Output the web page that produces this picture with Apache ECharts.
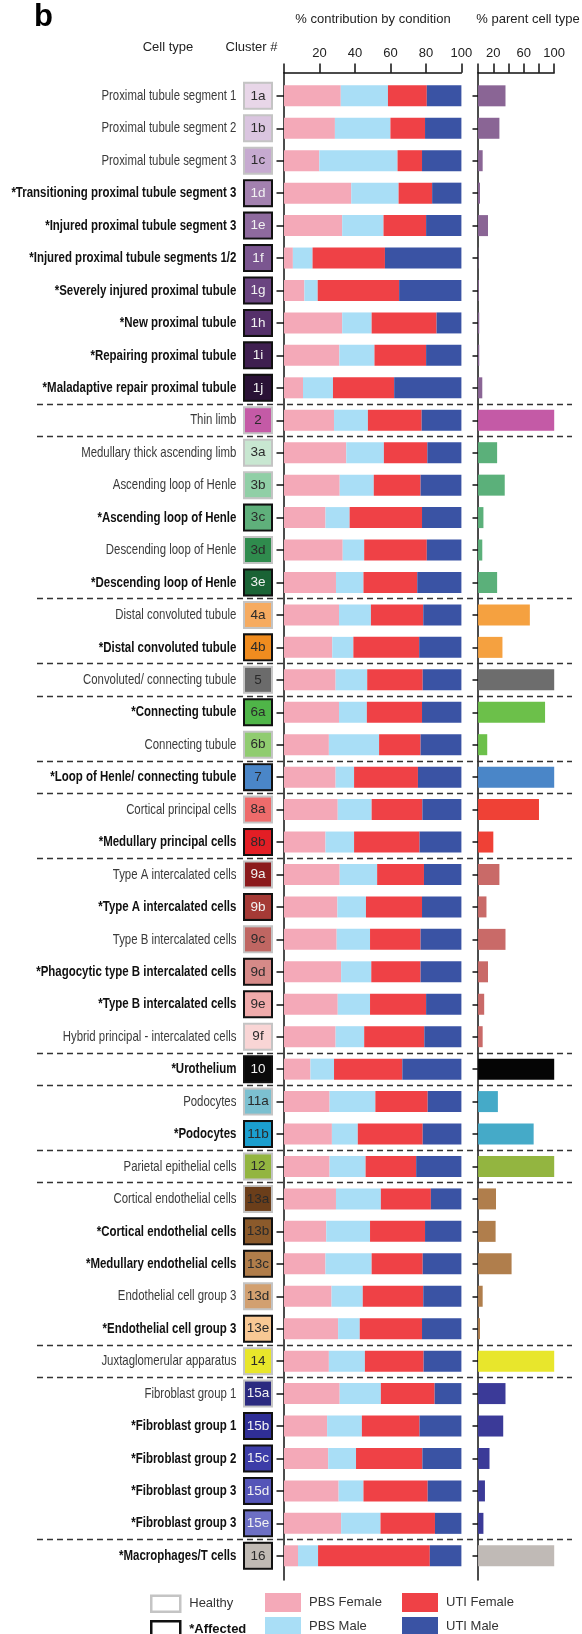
<!DOCTYPE html>
<html><head><meta charset="utf-8">
<script src="https://cdn.jsdelivr.net/npm/echarts@6/dist/echarts.min.js"></script>
<style>html,body{margin:0;padding:0;background:#fff;}#c{width:582px;height:1634px;}</style>
</head><body><div id="c"></div>
<script>
// ---------- DATA ----------
const cellTypes = [
 'Proximal tubule segment 1','Proximal tubule segment 2','Proximal tubule segment 3',
 '*Transitioning proximal tubule segment 3','*Injured proximal tubule segment 3',
 '*Injured proximal tubule segments 1/2','*Severely injured proximal tubule',
 '*New proximal tubule','*Repairing proximal tubule','*Maladaptive repair proximal tubule',
 'Thin limb',
 'Medullary thick ascending limb','Ascending loop of Henle','*Ascending loop of Henle',
 'Descending loop of Henle','*Descending loop of Henle',
 'Distal convoluted tubule','*Distal convoluted tubule',
 'Convoluted/ connecting tubule',
 '*Connecting tubule','Connecting tubule',
 '*Loop of Henle/ connecting tubule',
 'Cortical principal cells','*Medullary principal cells',
 'Type A intercalated cells','*Type A intercalated cells','Type B intercalated cells',
 '*Phagocytic type B intercalated cells','*Type B intercalated cells','Hybrid principal - intercalated cells',
 '*Urothelium',
 'Podocytes','*Podocytes',
 'Parietal epithelial cells',
 'Cortical endothelial cells','*Cortical endothelial cells','*Medullary endothelial cells',
 'Endothelial cell group 3','*Endothelial cell group 3',
 'Juxtaglomerular apparatus',
 'Fibroblast group 1','*Fibroblast group 1','*Fibroblast group 2','*Fibroblast group 3','*Fibroblast group 3',
 '*Macrophages/T cells'
];
const clusters = ['1a','1b','1c','1d','1e','1f','1g','1h','1i','1j','2','3a','3b','3c','3d','3e',
 '4a','4b','5','6a','6b','7','8a','8b','9a','9b','9c','9d','9e','9f','10','11a','11b','12',
 '13a','13b','13c','13d','13e','14','15a','15b','15c','15d','15e','16'];
const pbsFemale = [32.0,28.7,19.9,37.9,32.8,5.0,11.5,32.8,31.2,10.7,28.2,35.1,31.4,23.4,33.1,29.3,
 31.0,27.2,29.1,31.0,25.3,29.1,30.3,23.4,31.4,30.1,29.7,32.2,30.3,29.1,14.9,25.7,27.0,25.7,
 29.3,23.8,23.4,26.8,30.5,25.3,31.4,24.3,24.9,30.8,32.2,7.9];
const pbsMale = [26.6,31.3,44.1,26.7,23.3,11.1,7.5,16.6,19.8,16.9,19.1,21.2,19.2,13.6,12.1,15.5,
 18.0,11.9,17.8,15.7,28.3,10.4,19.1,16.1,21.1,16.1,18.8,17.0,18.2,16.1,13.3,25.8,14.6,20.3,
 25.3,24.7,26.0,17.6,12.2,20.3,23.2,19.6,15.7,14.0,22.2,11.3];
const utiFemale = [21.9,19.5,13.8,18.9,24.0,40.8,45.9,36.6,29.1,34.5,30.3,24.5,26.4,40.8,35.3,30.3,
 29.5,37.1,31.3,31.1,23.4,36.0,28.6,36.9,26.4,31.6,28.5,27.8,31.6,33.9,38.5,29.5,36.6,28.5,
 28.2,31.0,28.8,34.1,35.1,33.1,30.3,32.5,37.4,36.2,30.7,63.0];
const utiMale = [19.5,20.5,22.2,16.5,19.9,43.1,35.1,14.0,19.9,37.9,22.4,19.2,23.0,22.2,19.5,24.9,
 21.5,23.8,21.8,22.2,23.0,24.5,22.0,23.6,21.1,22.2,23.0,23.0,19.9,20.9,33.3,19.0,21.8,25.5,
 17.2,20.5,21.8,21.5,22.2,21.3,15.1,23.6,22.0,19.0,14.9,17.8];
const parentPct = [36,28,6,2.5,13,0.5,1,1.5,1.5,5.5,100,25,35,7,5.5,25,68,32,100,88,12,100,80,20,
 28,11,36,13,8,6,100,26,73,100,23.5,23,44,6,2.5,100,36,33,15,9,7,100];
const leftTicks = [0,20,40,60,80,100];
const rightTicksLabelled = [20,60,100];

// ---------- STYLE ----------
const clusterColors = ['#e8d6e8','#dac5e0','#c6aad0','#a381af','#8e6a9e','#7b5690','#6a4480','#55306a','#3f1f50','#2a1236',
 '#c45aa6','#c8e7d1','#90cfa6','#5fb07b','#2f8b4d','#1a6335','#f6ab60','#f08c1f','#6b6b6b','#4fb548','#90cc70',
 '#4a86c8','#ee6b6b','#e31e25','#8b1a1c','#a53a36','#bf6662','#d68a88','#f0abab','#f9d5d5','#0a0a0a','#7cc0d0',
 '#1b9fcf','#93b540','#6b3e1a','#8b5a2b','#b07d4a','#d2a070','#f8c894','#e8e62a','#2b2a80','#2f2e96','#3d3da8',
 '#5555b8','#6d6fc4','#c0bab4'];
const whiteText = ['1d','1e','1f','1g','1h','1i','1j','3e','9a','9b','10','15a','15b','15c','15d','15e'];
const groupColors = {1:'#8a6595',2:'#c45aa6',3:'#5bb07a',4:'#f5a140',5:'#6d6d6d',6:'#6cc04a',7:'#4a86c8',
 8:'#ef4136',9:'#c96a68',10:'#050505',11:'#45aac8',12:'#93b540',13:'#b07e4c',14:'#e8e62c',15:'#3b3a98',16:'#c0bab6'};
const seriesColors = {'PBS Female':'#f4a9b8','PBS Male':'#a9def6','UTI Female':'#ef4146','UTI Male':'#3a53a4'};

const SANS = "'Liberation Sans',Arial,Helvetica,sans-serif";
const NAME_FONT_N = '15px ' + SANS;
const NAME_FONT_B = 'bold 15px ' + SANS;

// horizontal squeeze so the (condensed-looking) labels fit the figure's label column
function squeeze(font, text, target) {
  const ctx = document.createElement('canvas').getContext('2d');
  ctx.font = font;
  return target / ctx.measureText(text).width;
}
const sxNormal = squeeze(NAME_FONT_N, 'Proximal tubule segment 1', 135);
const sxBold = squeeze(NAME_FONT_B, '*Transitioning proximal tubule segment 3', 225);

const N = clusters.length;
const ROW = 32.444;
const TOP = 79.6;
const H = ROW * N;
const LX = 284, LW = 177.4, RX = 478.1, RW = 76.1;
const AXTOP = 72.7, AXBOT = 1580;
const NAME_RIGHT = 236.4;

const groups = clusters.map(c => parseInt(c, 10));
const boundaries = [];
for (let i = 1; i < N; i++) if (groups[i] !== groups[i - 1]) boundaries.push(i);

const rich = {};
clusters.forEach((c, i) => {
  const aff = cellTypes[i].charAt(0) === '*';
  rich['b' + i] = {
    width: 26, height: 24, lineHeight: 24, align: 'center',
    backgroundColor: clusterColors[i],
    borderColor: aff ? '#111' : '#c4c4c4', borderWidth: 2,
    color: whiteText.indexOf(c) >= 0 ? '#f2f2f2' : '#2a2a2a',
    fontFamily: SANS, fontSize: 13.5
  };
});

const chart = echarts.init(document.getElementById('c'), null, {renderer: 'canvas'});

const axisTextStyle = {fontFamily: SANS, fontSize: 13, color: '#222'};
const blackLine = {color: '#111', width: 1.5};

const titleGraphics = [
  {type: 'text', x: 34, y: 2, style: {text: 'b', font: 'bold 31px ' + SANS, fill: '#000'}},
  {type: 'text', x: 373, y: 19.5, style: {text: '% contribution by condition', font: '13px ' + SANS, fill: '#222', align: 'center', verticalAlign: 'middle'}},
  {type: 'text', x: 528, y: 19.5, style: {text: '% parent cell type', font: '13px ' + SANS, fill: '#222', align: 'center', verticalAlign: 'middle'}},
  {type: 'text', x: 168, y: 47, style: {text: 'Cell type', font: '13px ' + SANS, fill: '#222', align: 'center', verticalAlign: 'middle'}},
  {type: 'text', x: 251.5, y: 47, style: {text: 'Cluster #', font: '13px ' + SANS, fill: '#222', align: 'center', verticalAlign: 'middle'}}
];

const option = {
  animation: false,
  backgroundColor: '#fff',
  grid: [
    {left: LX, top: TOP, width: LW, height: H, outerBoundsMode: 'none'},
    {left: RX, top: TOP, width: RW, height: H, outerBoundsMode: 'none'},
    {left: 37, top: TOP, width: 535, height: H, outerBoundsMode: 'none'},
    {left: LX, top: AXTOP, width: LW, height: AXBOT - AXTOP, outerBoundsMode: 'none'},
    {left: RX, top: AXTOP, width: RW, height: AXBOT - AXTOP, outerBoundsMode: 'none'}
  ],
  xAxis: [
    {gridIndex: 0, type: 'value', position: 'top', offset: TOP - AXTOP, min: leftTicks[0], max: leftTicks[leftTicks.length - 1], interval: 20,
     axisLine: {show: true, lineStyle: blackLine}, axisTick: {show: true, length: 9.3, lineStyle: blackLine},
     axisLabel: Object.assign({margin: 13, formatter: v => v === 0 ? '' : String(v)}, axisTextStyle), splitLine: {show: false}},
    {gridIndex: 1, type: 'value', position: 'top', offset: TOP - AXTOP, min: 0, max: 100, interval: 20,
     axisLine: {show: true, lineStyle: blackLine}, axisTick: {show: true, length: 9.3, lineStyle: blackLine},
     axisLabel: Object.assign({margin: 13, formatter: v => rightTicksLabelled.indexOf(v) >= 0 ? String(v) : ''}, axisTextStyle), splitLine: {show: false}},
    {gridIndex: 2, type: 'value', show: false, min: 0, max: 1},
    {gridIndex: 3, type: 'value', show: false, min: 0, max: 1},
    {gridIndex: 4, type: 'value', show: false, min: 0, max: 1}
  ],
  yAxis: [
    {gridIndex: 0, type: 'category', inverse: true, data: clusters,
     axisLine: {show: false}, axisTick: {show: true, alignWithLabel: true, length: 7.5, lineStyle: blackLine},
     axisLabel: {interval: 0, margin: 13, rich: rich,
       formatter: (value, index) => '{b' + index + '|' + value + '}'}},
    {gridIndex: 1, type: 'category', inverse: true, data: clusters,
     axisLine: {show: false}, axisTick: {show: true, alignWithLabel: true, length: 5.6, lineStyle: blackLine},
     axisLabel: {show: false}},
    {gridIndex: 2, type: 'value', inverse: true, min: 0, max: N, show: false},
    {gridIndex: 3, type: 'value', min: 0, max: 1, axisLine: {show: true, onZero: false, lineStyle: blackLine},
     axisTick: {show: false}, axisLabel: {show: false}, splitLine: {show: false}},
    {gridIndex: 4, type: 'value', min: 0, max: 1, axisLine: {show: true, onZero: false, lineStyle: blackLine},
     axisTick: {show: false}, axisLabel: {show: false}, splitLine: {show: false}}
  ],
  legend: [
    {left: 150, top: 1594.5, padding: 0, itemWidth: 29, itemHeight: 16, icon: 'rect', selectedMode: false,
     data: [{name: 'Healthy', itemStyle: {color: '#fff', borderColor: '#c4c4c4', borderWidth: 2.5}}],
     textStyle: {fontFamily: SANS, fontSize: 13, color: '#333', padding: [0, 0, 0, 4]}},
    {left: 150, top: 1620, padding: 0, itemWidth: 29, itemHeight: 16, icon: 'rect', selectedMode: false,
     data: [{name: '*Affected', itemStyle: {color: '#fff', borderColor: '#111', borderWidth: 2.5}}],
     textStyle: {fontFamily: SANS, fontSize: 13, fontWeight: 'bold', color: '#111', padding: [0, 0, 0, 4]}},
    {left: 265, top: 1593, padding: 0, itemWidth: 36, itemHeight: 19, icon: 'rect', selectedMode: false, data: ['PBS Female'],
     textStyle: {fontFamily: SANS, fontSize: 13, color: '#333', padding: [0, 0, 0, 3]}},
    {left: 402, top: 1593, padding: 0, itemWidth: 36, itemHeight: 19, icon: 'rect', selectedMode: false, data: ['UTI Female'],
     textStyle: {fontFamily: SANS, fontSize: 13, color: '#333', padding: [0, 0, 0, 3]}},
    {left: 265, top: 1617, padding: 0, itemWidth: 36, itemHeight: 19, icon: 'rect', selectedMode: false, data: ['PBS Male'],
     textStyle: {fontFamily: SANS, fontSize: 13, color: '#333', padding: [0, 0, 0, 3]}},
    {left: 402, top: 1617, padding: 0, itemWidth: 36, itemHeight: 19, icon: 'rect', selectedMode: false, data: ['UTI Male'],
     textStyle: {fontFamily: SANS, fontSize: 13, color: '#333', padding: [0, 0, 0, 3]}}
  ],
  graphic: titleGraphics,
  series: [
    {name: 'PBS Female', type: 'bar', stack: 'total', xAxisIndex: 0, yAxisIndex: 0, barWidth: 21, data: pbsFemale, itemStyle: {color: seriesColors['PBS Female']}},
    {name: 'PBS Male', type: 'bar', stack: 'total', xAxisIndex: 0, yAxisIndex: 0, barWidth: 21, data: pbsMale, itemStyle: {color: seriesColors['PBS Male']}},
    {name: 'UTI Female', type: 'bar', stack: 'total', xAxisIndex: 0, yAxisIndex: 0, barWidth: 21, data: utiFemale, itemStyle: {color: seriesColors['UTI Female']}},
    {name: 'UTI Male', type: 'bar', stack: 'total', xAxisIndex: 0, yAxisIndex: 0, barWidth: 21, data: utiMale, itemStyle: {color: seriesColors['UTI Male']}},
    {name: 'Healthy', type: 'bar', stack: 'total', xAxisIndex: 0, yAxisIndex: 0, barWidth: 21, data: [], itemStyle: {color: '#fff', borderColor: '#c4c4c4', borderWidth: 2.5}},
    {name: '*Affected', type: 'bar', stack: 'total', xAxisIndex: 0, yAxisIndex: 0, barWidth: 21, data: [], itemStyle: {color: '#fff', borderColor: '#111', borderWidth: 2.5}},
    {name: 'parent', type: 'bar', xAxisIndex: 1, yAxisIndex: 1, barWidth: 21,
     data: parentPct.map((v, i) => ({value: v, itemStyle: {color: groupColors[groups[i]]}}))},
    {name: 'separators', type: 'line', xAxisIndex: 2, yAxisIndex: 2, data: [], silent: true,
     markLine: {silent: true, symbol: ['none', 'none'], label: {show: false}, animation: false,
       lineStyle: {type: [6, 4], color: '#333', width: 1.4},
       data: boundaries.map(b => ({yAxis: b}))}}
  ]
};
chart.setOption(option);

// cell-type names: placed at each category's position given by the y axis
const nameGraphics = cellTypes.map((name, i) => {
  const bold = name.charAt(0) === '*';
  const y = chart.convertToPixel({yAxisIndex: 0}, clusters[i]);
  return {type: 'text', x: NAME_RIGHT, y: y, scaleX: bold ? sxBold : sxNormal, silent: true,
    style: {text: name, font: bold ? NAME_FONT_B : NAME_FONT_N, fill: bold ? '#111' : '#3a3a3a',
      align: 'right', verticalAlign: 'middle'}};
});
chart.setOption({graphic: titleGraphics.concat(nameGraphics)});
</script>
</body></html>
